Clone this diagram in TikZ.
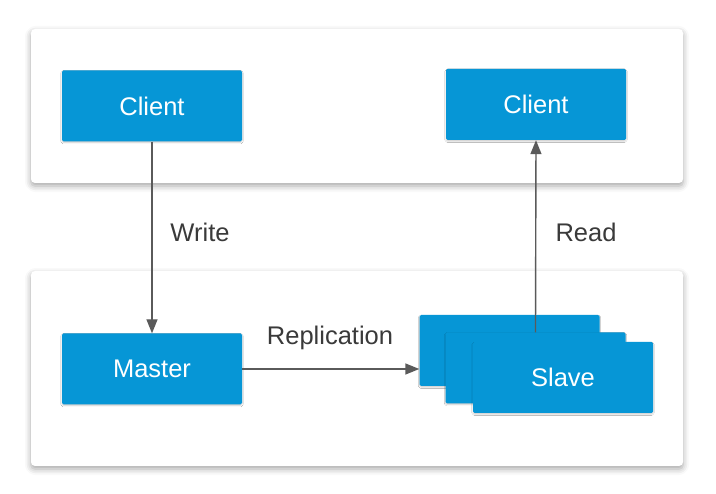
\documentclass[tikz,border=0pt]{standalone}
\usepackage{fontspec}
\setmainfont{Liberation Sans}
\usetikzlibrary{arrows.meta,shadows.blur}
\definecolor{boxblue}{HTML}{0696D6}
\definecolor{linegray}{HTML}{5A5A5A}
\definecolor{labelgray}{HTML}{3A3A3A}
\tikzset{
  panel/.style={fill=white, rounded corners=4pt,
    blur shadow={shadow xshift=0pt, shadow yshift=-3pt, shadow blur radius=6pt, shadow opacity=35}},
  bluebox/.style={fill=boxblue, rounded corners=1.5pt, minimum width=180pt, minimum height=71pt,
    inner sep=0pt, text=white, font=\fontsize{25.5}{30}\selectfont,
    blur shadow={shadow xshift=0pt, shadow yshift=-1.2pt, shadow blur radius=1.2pt, shadow opacity=20}},
  link/.style={draw=linegray, line width=1.4pt, -{Triangle[length=14pt,width=11pt]}},
  tag/.style={text=labelgray, font=\fontsize{25.5}{30}\selectfont, inner sep=0pt}
}
\begin{document}
\begin{tikzpicture}[x=1pt,y=-1pt]
  \useasboundingbox (0,0) rectangle (716,494);
  % background panels
  \path[panel] (31,29) rectangle (683,183);
  \path[panel] (31,271) rectangle (683,466);
  % clients
  \node[bluebox] (c1) at (152,106) {Client};
  \node[bluebox] (c2) at (536,104.5) {Client};
  % master
  \node[bluebox] (master) at (152,369) {Master};
  % stacked slaves
  \node[bluebox] (s1) at (509.5,350.5) {};
  \node[bluebox] (s2) at (535.5,368) {};
  \node[bluebox] (s3) at (563,377.5) {Slave};
  % connectors
  \draw[link] (c1.south) -- (master.north);
  \draw[link] (master.east) -- (master.east -| s1.west);
  \draw[link] (s2.north) -- (c2.south);
  % labels
  \node[tag] (lw) at (200,232) {Write};
  \node[tag] (lr) at (586,232) {Read};
  \node[tag] (lrep) at (330,338) {Replication};
\end{tikzpicture}
\end{document}
